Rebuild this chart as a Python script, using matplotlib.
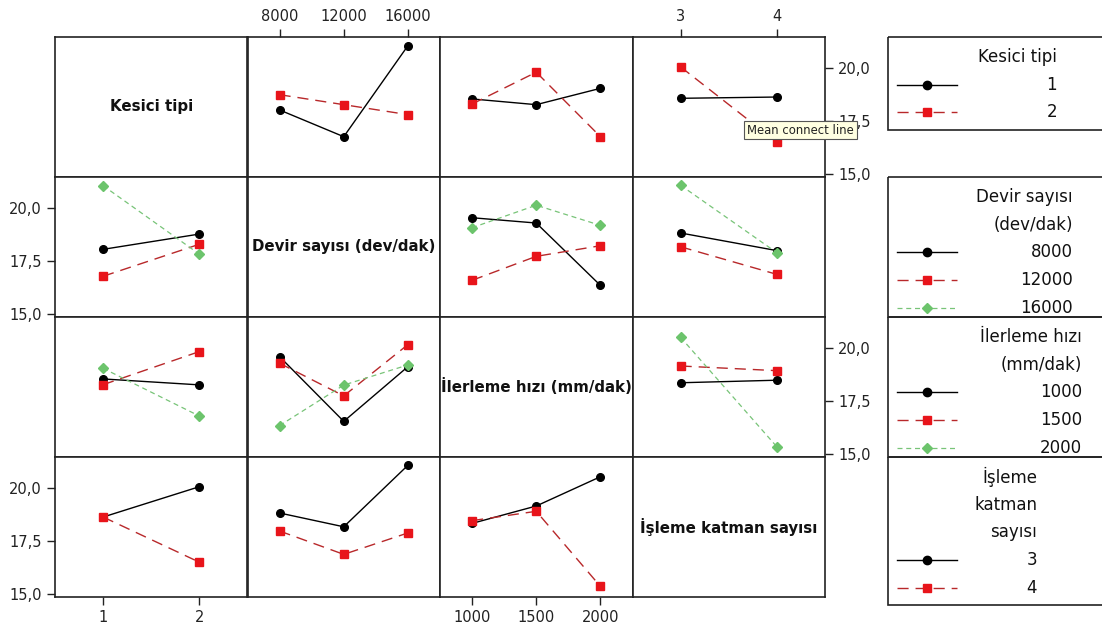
import matplotlib
matplotlib.use('Agg')
import matplotlib.pyplot as plt
from matplotlib.patches import Rectangle
from matplotlib.lines import Line2D
from matplotlib.ticker import FuncFormatter
import numpy as np

plt.rcParams['font.family'] = ['DejaVu Sans']

# factors and their levels
factors = ['Kesici tipi', 'Devir sayısı (dev/dak)', 'İlerleme hızı (mm/dak)', 'İşleme katman sayısı']
levels = [[1, 2], [8000, 12000, 16000], [1000, 1500, 2000], [3, 4]]
legend_titles = [['Kesici tipi'], ['Devir sayısı', '(dev/dak)'],
                 ['İlerleme hızı', '(mm/dak)'], ['İşleme', 'katman', 'sayısı']]

# interaction means: row factor level (one series each) vs column factor level
kesici_x_devir = [[18.02, 16.76, 21.05], [18.74, 18.27, 17.80]]
kesici_x_ilerleme = [[18.54, 18.27, 19.04], [18.30, 19.80, 16.76]]
kesici_x_katman = [[18.57, 18.63], [20.05, 16.50]]
devir_x_kesici = [[18.05, 18.77], [16.78, 18.29], [21.05, 17.82]]
devir_x_ilerleme = [[19.54, 19.29, 16.35], [16.59, 17.72, 18.22], [19.07, 20.13, 19.18]]
devir_x_katman = [[18.82, 17.99], [18.17, 16.87], [21.07, 17.89]]
ilerleme_x_kesici = [[18.54, 18.26], [18.27, 19.83], [19.04, 16.79]]
ilerleme_x_devir = [[19.59, 16.54, 19.12], [19.28, 17.74, 20.16], [16.34, 18.25, 19.20]]
ilerleme_x_katman = [[18.36, 18.48], [19.15, 18.93], [20.50, 15.34]]
katman_x_kesici = [[18.63, 20.06], [18.63, 16.50]]
katman_x_devir = [[18.82, 18.17, 21.07], [17.97, 16.87, 17.88]]
katman_x_ilerleme = [[18.33, 19.15, 20.53], [18.46, 18.90, 15.36]]

means = {
    (0, 1): kesici_x_devir, (0, 2): kesici_x_ilerleme, (0, 3): kesici_x_katman,
    (1, 0): devir_x_kesici, (1, 2): devir_x_ilerleme, (1, 3): devir_x_katman,
    (2, 0): ilerleme_x_kesici, (2, 1): ilerleme_x_devir, (2, 3): ilerleme_x_katman,
    (3, 0): katman_x_kesici, (3, 1): katman_x_devir, (3, 2): katman_x_ilerleme,
}

y_ticks = [15.0, 17.5, 20.0]

# line styles for level 1, 2, 3 of the row factor
styles = [
    dict(color='black', ls='-', marker='o', mfc='black', mec='black', ms=5.5, lw=1.0),
    dict(color='#b8282a', ls=(0, (8, 5)), marker='s', mfc='#e8141a', mec='#e8141a', ms=5.5, lw=1.0),
    dict(color='#78c478', ls=(0, (4, 3)), marker='D', mfc='#6cc46c', mec='#6cc46c', ms=5.0, lw=0.9),
]

W, H = 1102, 628
fig = plt.figure(figsize=(W / 100, H / 100), dpi=100)

x0, y0 = 55, 37
cw, ch = 192.5, 140
xlims = [(0.5, 2.5), (6000, 18000), (750, 2250), (2.5, 4.5)]
ylim = (14.86, 21.46)

comma = FuncFormatter(lambda v, p: ('%.1f' % v).replace('.', ','))

for r in range(4):
    for c in range(4):
        left = (x0 + c * cw) / W
        bottom = 1 - (y0 + (r + 1) * ch) / H
        ax = fig.add_axes([left, bottom, cw / W, ch / H])
        ax.set_xlim(*xlims[c])
        ax.set_ylim(*ylim)
        for s in ax.spines.values():
            s.set_linewidth(1.2)
            s.set_color('#222222')
        ax.set_xticks([])
        ax.set_yticks([])
        ax.tick_params(direction='out', length=6, width=1, labelsize=10.5, colors='#222222')

        if r == c:
            ax.text(0.5, 0.5, factors[r], transform=ax.transAxes, ha='center', va='center',
                    fontsize=10.8, fontweight='bold', color='#111111')
        else:
            for i, series in enumerate(means[(r, c)]):
                ax.plot(levels[c], series, **styles[i])

        # outer axes: alternate sides like a matrix plot
        if r == 3 and c in (0, 2):
            ax.set_xticks(levels[c])
            ax.tick_params(axis='x', bottom=True, labelbottom=True)
        if r == 0 and c in (1, 3):
            ax.set_xticks(levels[c])
            ax.tick_params(axis='x', top=True, labeltop=True, bottom=False, labelbottom=False)
        if c == 0 and r in (1, 3):
            ax.set_yticks(y_ticks)
            ax.yaxis.set_major_formatter(comma)
        if c == 3 and r in (0, 2):
            ax.set_yticks(y_ticks)
            ax.yaxis.set_major_formatter(comma)
            ax.tick_params(axis='y', right=True, labelright=True, left=False, labelleft=False)

# legend boxes on the right
lg = fig.add_axes([0, 0, 1, 1])
lg.set_xlim(0, W)
lg.set_ylim(H, 0)
lg.axis('off')
lg.patch.set_alpha(0)

box_spans = [(37, 130), (177, 317), (317, 457), (457, 605)]
text_right = [1057, 1073, 1082, 1037]
line_gap = 27.7
for k, (top, bot) in enumerate(box_spans):
    lg.add_patch(Rectangle((888, top), 300, bot - top, fill=False, ec='#222222', lw=1.2))
    y = top + 20
    for t in legend_titles[k]:
        lg.text(text_right[k], y, t, ha='right', va='center', fontsize=12, color='#111111')
        y += line_gap
    for i, lev in enumerate(levels[k]):
        st = styles[i]
        lg.add_line(Line2D([897, 957], [y, y], color=st['color'], ls=st['ls'], lw=st['lw']))
        lg.plot([927], [y], marker=st['marker'], mfc=st['mfc'], mec=st['mec'], ms=st['ms'] + 0.5, ls='none')
        lg.text(text_right[k], y, str(lev), ha='right', va='center', fontsize=12, color='#111111')
        y += line_gap

# hover tooltip
lg.text(747, 130, 'Mean connect line', ha='left', va='center', fontsize=8.4, color='#222222', zorder=10,
        bbox=dict(boxstyle='square,pad=0.25', fc='#ffffe1', ec='#555555', lw=0.8))

fig.savefig('out.png', dpi=100)
